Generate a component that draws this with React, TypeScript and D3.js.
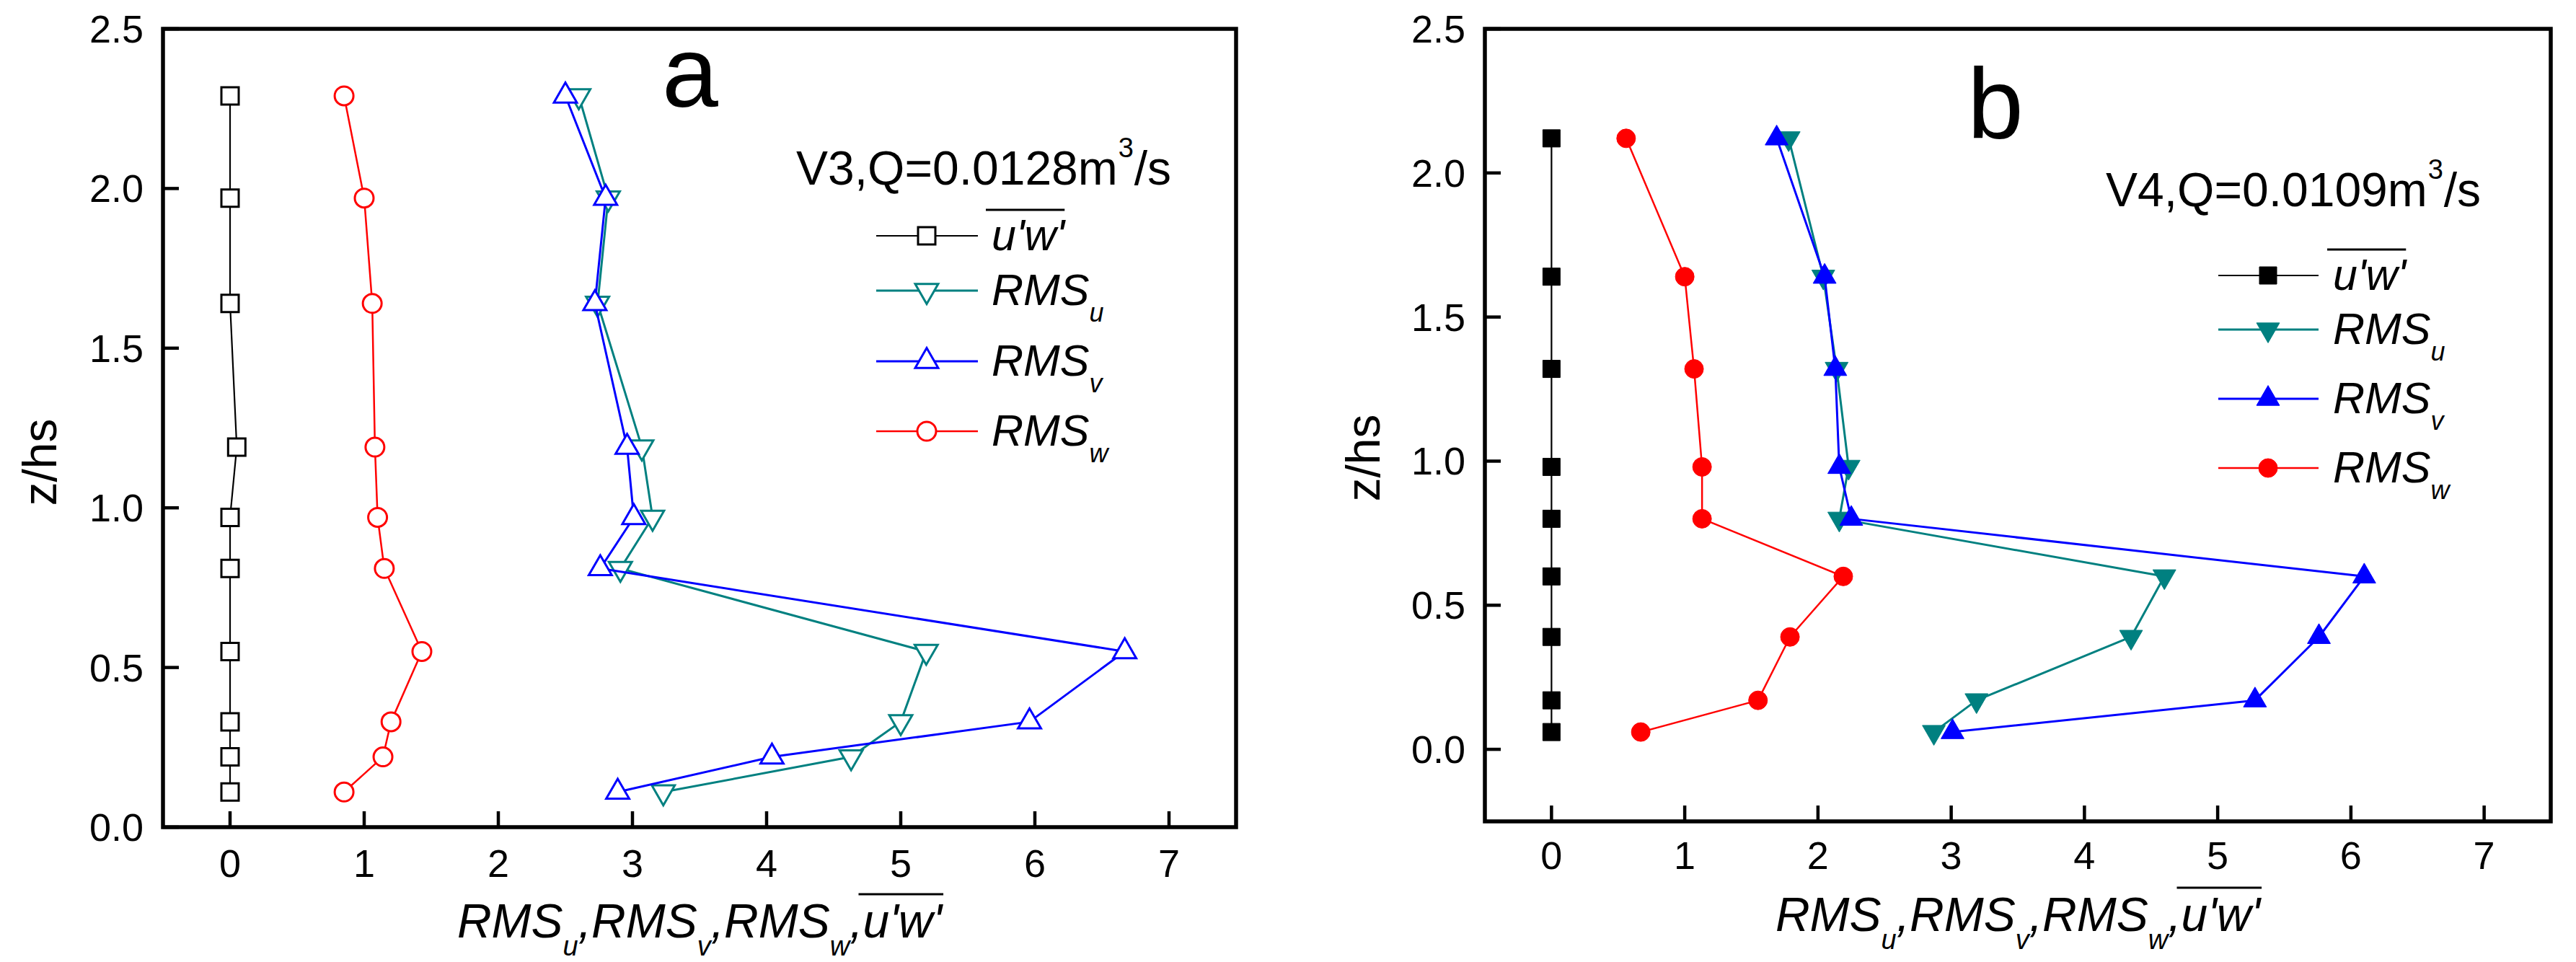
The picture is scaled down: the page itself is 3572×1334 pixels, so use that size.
import React from 'react';
import * as d3 from 'd3';

// ---------- data ----------
const xTickValues = [0, 1, 2, 3, 4, 5, 6, 7];
const yTickValuesA = [0, 0.5, 1.0, 1.5, 2.0, 2.5];
const yTickValuesB = [0, 0.5, 1.0, 1.5, 2.0, 2.5];

// Panel a : V3, Q=0.0128 m3/s
const zA = [2.29, 1.97, 1.64, 1.19, 0.97, 0.81, 0.55, 0.33, 0.22, 0.11];
const uwA = [0, 0, 0, 0.05, 0, 0, 0, 0, 0, 0];
const rmsUA = [2.6, 2.82, 2.74, 3.07, 3.15, 2.91, 5.19, 5.0, 4.63, 3.23];
const rmsVA = [2.5, 2.8, 2.72, 2.96, 3.01, 2.76, 6.67, 5.96, 4.04, 2.89];
const rmsWA = [0.85, 1.0, 1.06, 1.08, 1.1, 1.15, 1.43, 1.2, 1.14, 0.85];

// Panel b : V4, Q=0.0109 m3/s
const zB = [2.12, 1.64, 1.32, 0.98, 0.8, 0.6, 0.39, 0.17, 0.06];
const uwB = [0, 0, 0, 0, 0, 0, 0, 0, 0];
const rmsUB = [1.78, 2.04, 2.14, 2.23, 2.16, 4.6, 4.35, 3.19, 2.87];
const rmsVB = [1.69, 2.05, 2.13, 2.16, 2.25, 6.1, 5.76, 5.28, 3.01];
const rmsWB = [0.56, 1.0, 1.07, 1.13, 1.13, 2.19, 1.79, 1.55, 0.67];

const seriesNames = ['uw', 'u', 'v', 'w'];
const seriesColors = ['#000000', '#008080', '#0000ff', '#ff0000'];
const seriesShapes = ['square', 'down', 'up', 'circle'];
const subscripts = ['', 'u', 'v', 'w'];

const FONT = '"Liberation Sans", Arial, Helvetica, sans-serif';

// ---------- helpers ----------
let ctx: CanvasRenderingContext2D | null = null;
function measure(text: string, size: number, italic = false): number {
  if (!ctx) ctx = document.createElement('canvas').getContext('2d');
  if (!ctx) return text.length * size * 0.55;
  ctx.font = `${italic ? 'italic ' : ''}${size}px "Liberation Sans"`;
  return ctx.measureText(text).width;
}

const symSquare = d3.symbol().type(d3.symbolSquare).size(24 * 24)();
const symCircle = d3.symbol().type(d3.symbolCircle).size(Math.PI * 13 * 13)();
const symTri = d3.symbol().type(d3.symbolTriangle).size(440)();

function Marker({ shape, cx, cy, color, filled }: any) {
  const d = shape === 'square' ? symSquare : shape === 'circle' ? symCircle : symTri;
  const rot = shape === 'down' ? ' rotate(180)' : '';
  return (
    <path
      d={d as string}
      transform={`translate(${cx},${cy})${rot}`}
      fill={filled ? color : '#ffffff'}
      stroke={color}
      strokeWidth={filled ? 1 : 3}
    />
  );
}

type Layout = {
  left: number; right: number; top: number; bottom: number;
  yDomain: [number, number];
  xLabelBase: number; titleBase: number; zTitleX: number; zTitleY: number;
  letter: string; letterX: number; letterY: number;
  note: string; noteX: number; noteY: number;
  legLine: [number, number]; legMarker: number; legText: number; legRows: number[];
  filled: boolean;
};

function Panel({ L, z, series, yTicks }: { L: Layout; z: number[]; series: number[][]; yTicks: number[] }) {
  const x = d3.scaleLinear().domain([-0.5, 7.5]).range([L.left, L.right]);
  const y = d3.scaleLinear().domain(L.yDomain).range([L.bottom, L.top]);
  const fmt = d3.format('.1f');
  const lineGen = d3.line<[number, number]>().x((d) => x(d[0])).y((d) => y(d[1]));
  const lineW = [2.2, 3, 3, 2.5];

  // x axis title pieces
  const mainSize = 66, subSize = 38;
  const pieces: { t: string; sub: boolean; over?: boolean }[] = [
    { t: 'RMS', sub: false }, { t: 'u', sub: true }, { t: ',RMS', sub: false }, { t: 'v', sub: true },
    { t: ',RMS', sub: false }, { t: 'w', sub: true }, { t: ',', sub: false }, { t: "u'w'", sub: false, over: true },
  ];
  const widths = pieces.map((p) => measure(p.t, p.sub ? subSize : mainSize, true));
  const total = d3.sum(widths);
  const cx = (L.left + L.right) / 2;
  let acc = cx - total / 2;
  const placed = pieces.map((p, i) => {
    const px = acc;
    acc += widths[i];
    return { ...p, x: px, w: widths[i] };
  });

  const legSize = 61, legSub = 36;
  const noteW = measure('V3,Q=0.0128m', 66);

  return (
    <g>
      {/* series */}
      {series.map((vals, si) => {
        const pts = vals.map((v, i) => [v, z[i]] as [number, number]);
        return (
          <g key={si}>
            <path d={lineGen(pts) || ''} fill="none" stroke={seriesColors[si]} strokeWidth={lineW[si]} strokeLinejoin="round" />
            {pts.map((p, i) => (
              <Marker key={i} shape={seriesShapes[si]} cx={x(p[0])} cy={y(p[1])} color={seriesColors[si]} filled={L.filled} />
            ))}
          </g>
        );
      })}

      {/* frame */}
      <rect x={L.left} y={L.top} width={L.right - L.left} height={L.bottom - L.top} fill="none" stroke="#000" strokeWidth={5.5} />

      {/* x ticks */}
      {xTickValues.map((t) => (
        <g key={'x' + t}>
          <line x1={x(t)} x2={x(t)} y1={L.bottom} y2={L.bottom - 22} stroke="#000" strokeWidth={4.5} />
          <text x={x(t)} y={L.xLabelBase} textAnchor="middle" fontSize={54}>{t}</text>
        </g>
      ))}

      {/* y ticks */}
      {yTicks.map((t) => (
        <g key={'y' + t}>
          <line x1={L.left} x2={L.left + 22} y1={y(t)} y2={y(t)} stroke="#000" strokeWidth={4.5} />
          <text x={L.left - 27} y={y(t) + 19} textAnchor="end" fontSize={54}>{fmt(t)}</text>
        </g>
      ))}

      {/* y title */}
      <text transform={`translate(${L.zTitleX},${L.zTitleY}) rotate(-90)`} textAnchor="middle" fontSize={66}>z/hs</text>

      {/* x title */}
      {placed.map((p, i) => (
        <g key={'t' + i}>
          <text x={p.x} y={L.titleBase + (p.sub ? 25 : 0)} fontSize={p.sub ? subSize : mainSize} fontStyle="italic">{p.t}</text>
          {p.over && (
            <line x1={p.x - 6} x2={p.x + p.w + 2} y1={L.titleBase - 60} y2={L.titleBase - 60} stroke="#000" strokeWidth={3} />
          )}
        </g>
      ))}

      {/* panel letter */}
      <text x={L.letterX} y={L.letterY} textAnchor="middle" fontSize={140}>{L.letter}</text>

      {/* annotation */}
      <text x={L.noteX} y={L.noteY} fontSize={66}>
        {L.note}
      </text>
      <text x={L.noteX + noteW + 1} y={L.noteY - 38} fontSize={38}>3</text>
      <text x={L.noteX + noteW + 23} y={L.noteY} fontSize={66}>/s</text>

      {/* legend */}
      {seriesNames.map((nm, si) => {
        const ry = L.legRows[si];
        const tb = ry + 20;
        const uwW = measure("u'w'", legSize, true);
        return (
          <g key={'l' + nm}>
            <line x1={L.legLine[0]} x2={L.legLine[1]} y1={ry} y2={ry} stroke={seriesColors[si]} strokeWidth={lineW[si]} />
            <Marker shape={seriesShapes[si]} cx={L.legMarker} cy={ry} color={seriesColors[si]} filled={L.filled} />
            {si === 0 ? (
              <g>
                <text x={L.legText} y={tb} fontSize={legSize} fontStyle="italic">u'w'</text>
                <line x1={L.legText - 8} x2={L.legText + uwW} y1={tb - 56} y2={tb - 56} stroke="#000" strokeWidth={3} />
              </g>
            ) : (
              <text x={L.legText} y={tb} fontSize={legSize} fontStyle="italic">
                RMS
                <tspan fontSize={legSub} dy={23}>{subscripts[si]}</tspan>
              </text>
            )}
          </g>
        );
      })}
    </g>
  );
}

const layoutA: Layout = {
  left: 226, right: 1714, top: 40, bottom: 1147, yDomain: [0, 2.5],
  xLabelBase: 1216, titleBase: 1300, zTitleX: 78, zTitleY: 641,
  letter: 'a', letterX: 957, letterY: 148,
  note: 'V3,Q=0.0128m', noteX: 1104, noteY: 256,
  legLine: [1215, 1356], legMarker: 1285, legText: 1375, legRows: [327, 403, 501, 598],
  filled: false,
};

const layoutB: Layout = {
  left: 2059, right: 3537, top: 40, bottom: 1139, yDomain: [-0.25, 2.5],
  xLabelBase: 1205, titleBase: 1291, zTitleX: 1913, zTitleY: 635,
  letter: 'b', letterX: 2767, letterY: 192,
  note: 'V4,Q=0.0109m', noteX: 2920, noteY: 286,
  legLine: [3076, 3215], legMarker: 3145, legText: 3235, legRows: [382, 457, 553, 649],
  filled: true,
};

export default function App() {
  return (
    <svg
      width={3572}
      height={1334}
      viewBox="0 0 3572 1334"
      style={{ position: 'absolute', left: 0, top: 0, background: '#ffffff' }}
      fontFamily={FONT}
    >
      <rect x={0} y={0} width={3572} height={1334} fill="#ffffff" />
      <Panel L={layoutA} z={zA} series={[uwA, rmsUA, rmsVA, rmsWA]} yTicks={yTickValuesA} />
      <Panel L={layoutB} z={zB} series={[uwB, rmsUB, rmsVB, rmsWB]} yTicks={yTickValuesB} />
    </svg>
  );
}
